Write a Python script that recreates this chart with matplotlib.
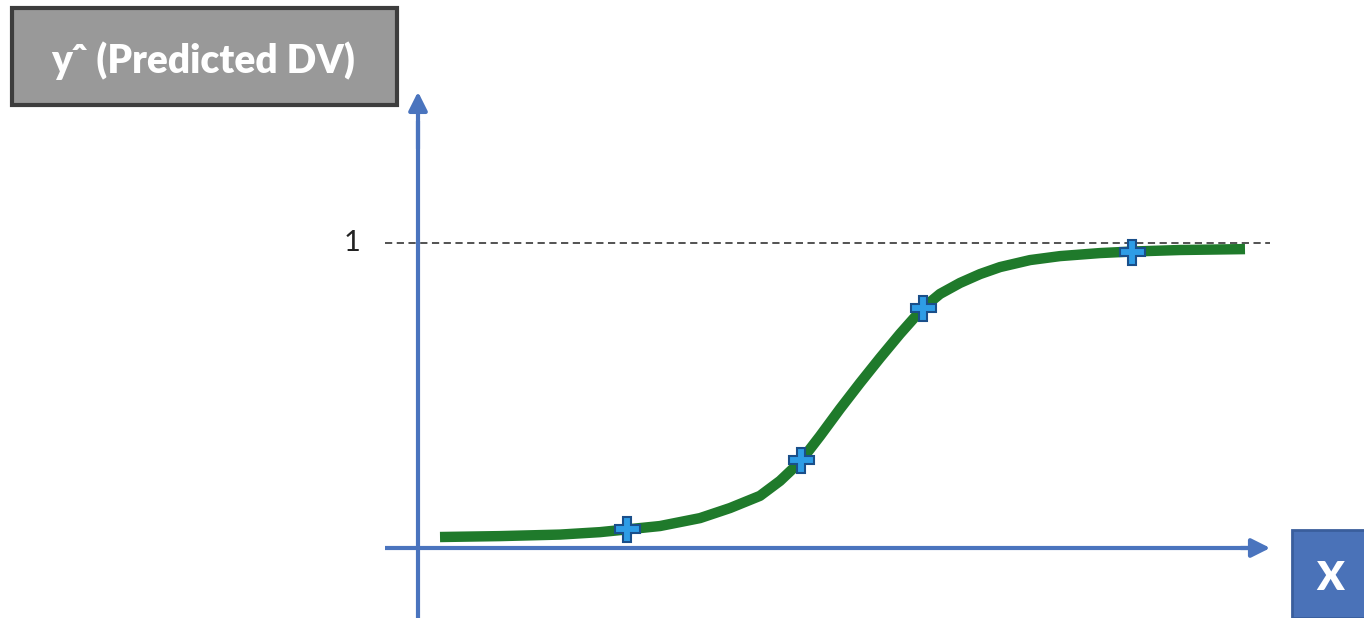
import matplotlib
matplotlib.use('Agg')
import matplotlib.pyplot as plt
from matplotlib.patches import Rectangle

# curve (x, y in "probability" units; y=1 is the dashed line)
curve_x = [0.22, 0.82, 1.42, 1.82, 2.09, 2.42, 2.82, 3.12, 3.42, 3.62, 3.82, 4.02, 4.22,
           4.42, 4.62, 4.82, 5.05, 5.22, 5.42, 5.62, 5.82, 6.12, 6.42, 6.82, 7.14, 7.62, 8.27]
curve_y = [0.036, 0.039, 0.044, 0.052, 0.061, 0.072, 0.098, 0.131, 0.171, 0.220, 0.282,
           0.367, 0.456, 0.541, 0.623, 0.702, 0.787, 0.833, 0.869, 0.898, 0.921, 0.944,
           0.957, 0.967, 0.972, 0.977, 0.980]

# observed points (plus markers)
pts_x = [2.09, 3.83, 5.05, 7.14]
pts_y = [0.061, 0.289, 0.787, 0.972]

y_label = "y\u02c6 (Predicted DV)"
x_label = "X"
one_label = "1"

axis_blue = '#4a74be'
green = '#1f7a2b'

fig = plt.figure(figsize=(13.64, 6.18), dpi=100)
ax = fig.add_axes([0, 0, 1, 1])
ax.set_xlim(-4.18, 9.46)
ax.set_ylim(-0.2295, 1.7967)
ax.axis('off')

# dashed line at 1
ax.plot([-0.33, 8.52], [1, 1], ls=(0, (4, 2.5)), color='#444444', lw=1.3, zorder=2)
ax.text(-0.66, 1.0, one_label, ha='center', va='center', fontsize=21,
        family='Lato', color='#222222')

# axes with arrows
ax.plot([0, 0], [-0.3, 1.4], color=axis_blue, lw=3, zorder=3, solid_capstyle='butt')
ax.annotate('', xy=(0, 1.505), xytext=(0, 1.3),
            arrowprops=dict(arrowstyle='-|>', color=axis_blue, lw=3, mutation_scale=28))
ax.plot([-0.33, 8.3], [0, 0], color=axis_blue, lw=3, zorder=3, solid_capstyle='butt')
ax.annotate('', xy=(8.55, 0), xytext=(8.2, 0),
            arrowprops=dict(arrowstyle='-|>', color=axis_blue, lw=3, mutation_scale=28))

# logistic curve
ax.plot(curve_x, curve_y, color=green, lw=7.5, solid_capstyle='butt',
        solid_joinstyle='round', zorder=4)
ax.plot(pts_x, pts_y, ls='none', marker='P', ms=18, mfc='#2e9de6', mec='#1a4f8a',
        mew=1.5, zorder=5)

# label boxes (figure pixel coordinates)
W, H = 1364, 618
fig.patches.append(Rectangle((12 / W, 1 - 105 / H), 385 / W, 97 / H, transform=fig.transFigure,
                             facecolor='#999999', edgecolor='#3d3d3d', lw=3))
fig.text(203 / W, 1 - 61 / H, y_label, ha='center', va='center', fontsize=28,
         family='Lato', weight='heavy', color='white')
fig.patches.append(Rectangle((1292 / W, 0), 80 / W, 88 / H, transform=fig.transFigure,
                             facecolor='#4a72b8', edgecolor='#3a5e9c', lw=2))
fig.text(1330 / W, 1 - 578 / H, x_label, ha='center', va='center', fontsize=29,
         family='Lato', weight='heavy', color='white')

fig.savefig('out.png', dpi=100, facecolor='white')
